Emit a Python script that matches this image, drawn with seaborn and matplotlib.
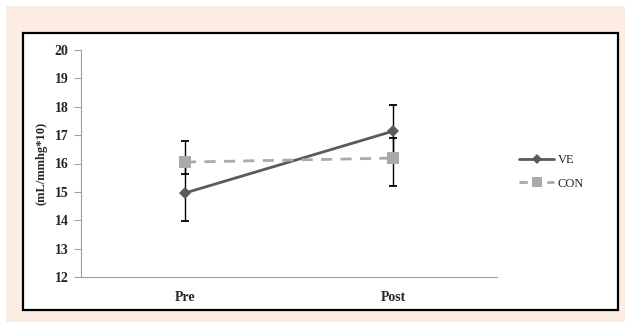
import pandas as pd
import seaborn as sns
import matplotlib.pyplot as plt
from matplotlib.patches import Rectangle
from matplotlib.lines import Line2D

# Données
phases = ["Pre", "Post"]
ve_mean = [14.96, 17.14]
ve_err_low = [0.99, 0.92]
ve_err_high = [0.99, 0.92]
con_mean = [16.05, 16.19]
con_err_low = [0.42, 0.99]
con_err_high = [0.74, 0.70]
y_ticks = [12, 13, 14, 15, 16, 17, 18, 19, 20]
y_label = "(mL/mmhg*10)"

sns.set_theme(style="white")
plt.rcParams["font.family"] = ["Liberation Serif", "DejaVu Serif"]

df = pd.DataFrame({
    "phase": phases * 2,
    "x": [0, 1] * 2,
    "value": ve_mean + con_mean,
    "group": ["VE"] * 2 + ["CON"] * 2,
})

fig = plt.figure(figsize=(6.28, 3.24), dpi=100, facecolor="white")
W, H = 628, 324
# fond saumon et cadre blanc
fig.patches.append(Rectangle((6 / W, 2 / H), 619 / W, 316 / H, transform=fig.transFigure,
                             facecolor="#FCECE2", edgecolor="none", zorder=0))
fig.patches.append(Rectangle((23 / W, 14 / H), 595 / W, 277 / H, transform=fig.transFigure,
                             facecolor="white", edgecolor="black", linewidth=1.6, zorder=1))

ax = fig.add_axes([81 / W, 47 / H, 416 / W, 227 / H])
ax.set_zorder(5)
ax.set_facecolor("none")

colors = {"VE": "#5A5A5A", "CON": "#AAAAAA"}
ax.errorbar([0, 1], ve_mean, yerr=[ve_err_low, ve_err_high], fmt="none",
            ecolor="black", elinewidth=1, capsize=3, capthick=1.3, zorder=2)
ax.errorbar([0, 1], con_mean, yerr=[con_err_low, con_err_high], fmt="none",
            ecolor="black", elinewidth=1, capsize=3, capthick=1.3, zorder=2)

sns.lineplot(data=df[df.group == "VE"], x="x", y="value", color=colors["VE"],
             marker="D", markersize=6, markeredgewidth=0, linewidth=2, ax=ax,
             zorder=3, legend=False)
sns.lineplot(data=df[df.group == "CON"], x="x", y="value", color=colors["CON"],
             marker="s", markersize=8, markeredgewidth=0, linewidth=2,
             linestyle=(0, (4, 3)), ax=ax, zorder=4, legend=False)

ax.set_xlim(-0.5, 1.5)
ax.set_ylim(12, 20)
ax.set_yticks(y_ticks)
ax.set_yticklabels([str(t) for t in y_ticks], fontweight="bold", fontsize=10)
ax.set_xticks([0, 1])
ax.set_xticklabels(phases, fontweight="bold", fontsize=10)
ax.set_xticks([-0.5, 0.5, 1.5], minor=True)
ax.tick_params(axis="x", which="major", length=0, pad=10)
ax.tick_params(axis="x", which="minor", direction="in", length=4, color="#A0A0A0", width=0.8)
ax.tick_params(axis="y", direction="out", length=5, color="#A0A0A0", width=0.8, pad=4, left=True)
ax.set_xlabel("")
ax.set_ylabel(y_label, fontweight="bold", fontsize=9, labelpad=5)

for side in ["top", "right"]:
    ax.spines[side].set_visible(False)
for side in ["left", "bottom"]:
    ax.spines[side].set_color("#A0A0A0")
    ax.spines[side].set_linewidth(0.8)

handles = [
    Line2D([], [], color=colors["VE"], marker="D", markersize=5, linewidth=2, markeredgewidth=0),
    Line2D([], [], color=colors["CON"], marker="s", markersize=7, linewidth=2,
           linestyle=(0, (3, 2)), markeredgewidth=0),
]
leg = fig.legend(handles, ["VE", "CON"], loc="center left", bbox_to_anchor=(508 / W, 152 / H),
                 frameon=False, fontsize=9, handlelength=2.8, handletextpad=0.3, labelspacing=0.9)
leg.set_zorder(6)

fig.savefig("out.png", dpi=100, facecolor="white")
